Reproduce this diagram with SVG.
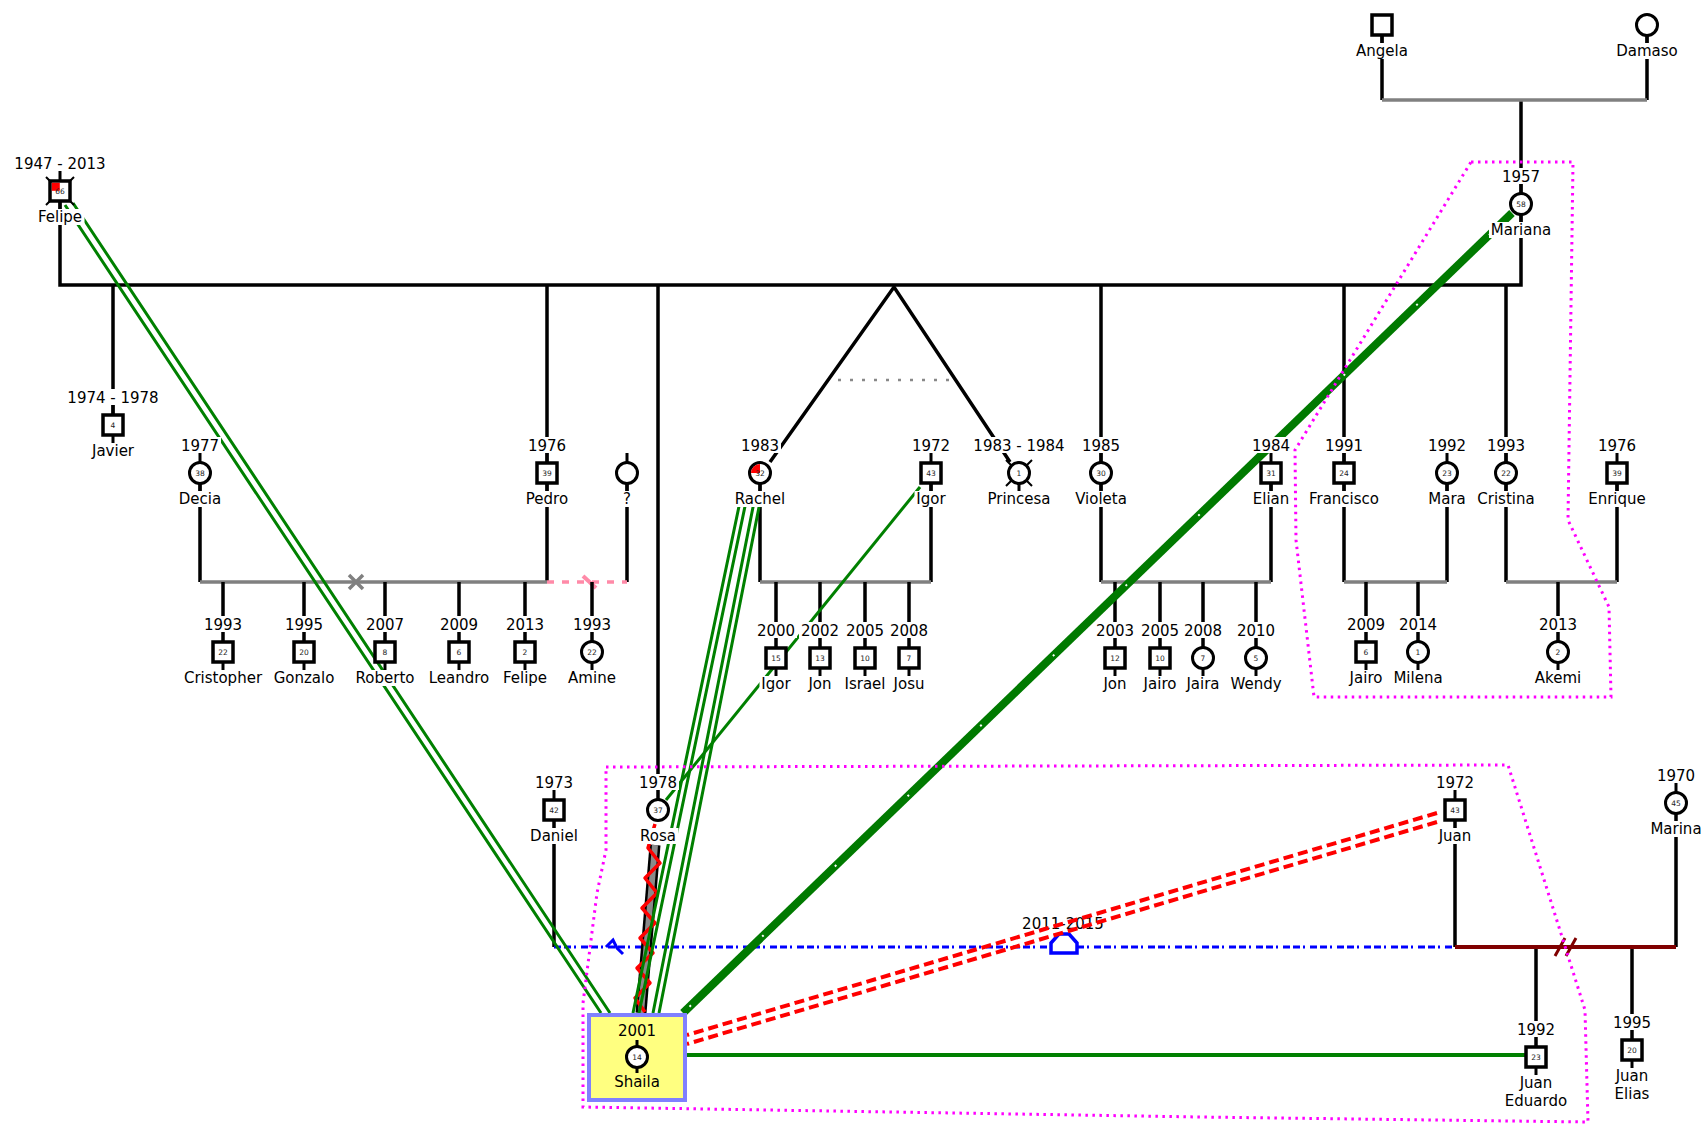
<svg xmlns="http://www.w3.org/2000/svg" width="1702" height="1145" viewBox="0 0 1702 1145">
<style>
.t{font-family:"DejaVu Sans","Liberation Sans",sans-serif;font-size:15px;text-anchor:middle;fill:#000}
.a{font-family:"DejaVu Sans","Liberation Sans",sans-serif;font-size:7.5px;text-anchor:middle;fill:#222}
.bg{fill:#fff}
.sq{fill:#fff;stroke:#000;stroke-width:3.5}
.ci{fill:#fff;stroke:#000;stroke-width:3}
.stub{stroke:#000;stroke-width:3;fill:none}
.dx{stroke:#000;stroke-width:2}
.k{stroke:#000;stroke-width:3.5;fill:none}
.m{stroke:#808080;stroke-width:3.5;fill:none}
.g{stroke:#008000;stroke-width:3;fill:none}
.rd{stroke:#f00;stroke-width:4;fill:none;stroke-dasharray:10 5}
.mg{stroke:#f0f;stroke-width:3;fill:none;stroke-dasharray:2.5 4.5}
</style>
<rect width="1702" height="1145" fill="#fff"/>
<g id="connectors">
<path class="k" d="M60,191V285H1521V204"/>
<path class="k" d="M1382,25V100M1647,25V100M1521,100V204"/>
<path class="m" d="M1382,100H1647"/>
<path class="k" d="M113,285V425M547,285V582M658,285V810M1101,285V582M1344,285V582M1506,285V582"/>
<path class="k" stroke-width="3" d="M770,462L894,287L1010,462"/>
<path d="M838,380H954" stroke="#888" stroke-width="2.5" stroke-dasharray="3 9" fill="none"/>
<path class="k" d="M200,473V582M627,473V582M760,473V582M931,473V582M1271,473V582M1447,473V582M1617,473V582"/>
<path class="m" d="M200,582H547M760,582H931M1101,582H1271M1344,582H1447M1506,582H1617"/>
<path class="m" d="M349,575L363,589M363,575L349,589"/>
<path d="M547,582H627" stroke="#ff8aa8" stroke-width="3.5" stroke-dasharray="7 8" fill="none"/>
<path d="M583,576L596,588" stroke="#ff8aa8" stroke-width="4"/>
<path class="k" d="M223,582V652M304,582V652M385,582V652M459,582V652M525,582V652M592,582V652M776,582V658M820,582V658M865,582V658M909,582V658M1115,582V658M1160,582V658M1203,582V658M1256,582V658M1366,582V652M1418,582V652M1558,582V652"/>
<path class="k" d="M554,810V947M1455,810V947M1676,803V947M1536,947V1057M1632,947V1050"/>
<path d="M554,947H1455" stroke="#00f" stroke-width="3" stroke-dasharray="7 3 7 3 2 5" fill="none"/>
<path d="M606,947L613,940L617,948L623,954" stroke="#00f" stroke-width="3" fill="none"/>
<path d="M1455,947H1676" stroke="#800000" stroke-width="4"/>
<path d="M1555,956L1565,938M1566,956L1576,938" stroke="#800000" stroke-width="3"/>
<path d="M1051,953V943L1059,934H1069L1077,943V953Z" fill="#fff" stroke="#00f" stroke-width="3.5"/>
<text class="t" x="1063" y="928.5">2011-2015</text>
<path d="M655,845L641,1013" stroke="#000" stroke-width="11"/>
<path d="M655,845L641,1013" stroke="#8a8a8a" stroke-width="6"/>
<path d="M655,824L648,848L660,863L645,878L657,893L642,908L655,923L640,938L653,953L637,968L650,983L635,998L645,1012" stroke="#f00" stroke-width="3.5" fill="none" stroke-linejoin="round"/>
<path class="g" d="M65,205L601,1013M73,203L610,1013"/>
<path class="g" d="M742,492L633,1013M748,492L639,1013M756,492L653,1013M762,492L659,1013"/>
<path class="g" d="M920,487L666,800"/>
<path d="M1512,213L683,1013" stroke="#007a00" stroke-width="8"/>
<path d="M1512,213L683,1013" stroke="#fff" stroke-width="2" stroke-dasharray="2 99" stroke-dashoffset="-30"/>
<path d="M685,1055H1526" stroke="#008000" stroke-width="4"/>
<path class="rd" d="M1437,813L687,1035M1437,822L687,1044"/>
<path class="mg" d="M1471,162L1573,162L1568,520L1609,607L1611,697L1314,697L1296,540L1295,450Z"/>
<path class="mg" d="M606,767L1508,765L1585,1010L1588,1122L1200,1117L583,1107L583,1003L597,893L606,850Z"/>
</g>
<g id="nodes">
<g id="n-angela"><path class="stub" d="M1382,35V43"/><rect class="sq" x="1372" y="15" width="20" height="20"/><rect class="bg" x="1354" y="43" width="56" height="16"/><text class="t" x="1382" y="56">Angela</text></g>
<g id="n-damaso"><path class="stub" d="M1647,35V43"/><circle class="ci" cx="1647" cy="25" r="10.5"/><rect class="bg" x="1614" y="43" width="66" height="16"/><text class="t" x="1647" y="56">Damaso</text></g>
<g id="n-mariana"><rect class="bg" x="1500" y="168" width="42" height="16"/><text class="t" x="1521" y="181.5">1957</text><path class="stub" d="M1521,184V194M1521,214V222"/><circle class="ci" cx="1521" cy="204" r="10.5"/><text class="a" x="1521" y="206.5">58</text><rect class="bg" x="1489" y="222" width="64" height="16"/><text class="t" x="1521" y="235">Mariana</text></g>
<g id="n-felipe"><rect class="bg" x="12.5" y="155" width="95" height="16"/><text class="t" x="60" y="168.5">1947 - 2013</text><path class="stub" d="M60,171V181M60,201V209"/><path class="dx" d="M46,177L74,205M74,177L46,205"/><rect class="sq" x="50" y="181" width="20" height="20"/><rect x="51.8" y="182.8" width="8" height="8" fill="#f00"/><text class="a" x="60" y="193.5">66</text><rect class="bg" x="35.5" y="209" width="49" height="16"/><text class="t" x="60" y="222">Felipe</text></g>
<g id="n-javier"><rect class="bg" x="65.5" y="389" width="95" height="16"/><text class="t" x="113" y="402.5">1974 - 1978</text><path class="stub" d="M113,405V415M113,435V443"/><rect class="sq" x="103" y="415" width="20" height="20"/><text class="a" x="113" y="427.5">4</text><rect class="bg" x="90" y="443" width="46" height="16"/><text class="t" x="113" y="456">Javier</text></g>
<g id="n-decia"><rect class="bg" x="179" y="437" width="42" height="16"/><text class="t" x="200" y="450.5">1977</text><path class="stub" d="M200,453V463M200,483V491"/><circle class="ci" cx="200" cy="473" r="10.5"/><text class="a" x="200" y="475.5">38</text><rect class="bg" x="177" y="491" width="46" height="16"/><text class="t" x="200" y="504">Decia</text></g>
<g id="n-pedro"><rect class="bg" x="526" y="437" width="42" height="16"/><text class="t" x="547" y="450.5">1976</text><path class="stub" d="M547,453V463M547,483V491"/><rect class="sq" x="537" y="463" width="20" height="20"/><text class="a" x="547" y="475.5">39</text><rect class="bg" x="523.5" y="491" width="47" height="16"/><text class="t" x="547" y="504">Pedro</text></g>
<g id="n-unknown"><path class="stub" d="M627,453V463M627,483V491"/><circle class="ci" cx="627" cy="473" r="10.5"/><rect class="bg" x="621" y="491" width="12" height="16"/><text class="t" x="627" y="504">?</text></g>
<g id="n-rachel"><rect class="bg" x="739" y="437" width="42" height="16"/><text class="t" x="760" y="450.5">1983</text><path class="stub" d="M760,483V491"/><circle class="ci" cx="760" cy="473" r="10.5"/><path d="M760,473L751,473A9,9 0 0 1 760,464Z" fill="#f00"/><text class="a" x="760" y="475.5">32</text><rect class="bg" x="732.5" y="491" width="55" height="16"/><text class="t" x="760" y="504">Rachel</text></g>
<g id="n-igor"><rect class="bg" x="910" y="437" width="42" height="16"/><text class="t" x="931" y="450.5">1972</text><path class="stub" d="M931,453V463M931,483V491"/><rect class="sq" x="921" y="463" width="20" height="20"/><text class="a" x="931" y="475.5">43</text><rect class="bg" x="914.5" y="491" width="33" height="16"/><text class="t" x="931" y="504">Igor</text></g>
<g id="n-princesa"><rect class="bg" x="971.5" y="437" width="95" height="16"/><text class="t" x="1019" y="450.5">1983 - 1984</text><path class="stub" d="M1019,483V491"/><path class="dx" d="M1006,460L1032,486M1032,460L1006,486"/><circle class="ci" cx="1019" cy="473" r="10.5"/><text class="a" x="1019" y="475.5">1</text><rect class="bg" x="985.5" y="491" width="67" height="16"/><text class="t" x="1019" y="504">Princesa</text></g>
<g id="n-violeta"><rect class="bg" x="1080" y="437" width="42" height="16"/><text class="t" x="1101" y="450.5">1985</text><path class="stub" d="M1101,453V463M1101,483V491"/><circle class="ci" cx="1101" cy="473" r="10.5"/><text class="a" x="1101" y="475.5">30</text><rect class="bg" x="1073" y="491" width="56" height="16"/><text class="t" x="1101" y="504">Violeta</text></g>
<g id="n-elian"><rect class="bg" x="1250" y="437" width="42" height="16"/><text class="t" x="1271" y="450.5">1984</text><path class="stub" d="M1271,453V463M1271,483V491"/><rect class="sq" x="1261" y="463" width="20" height="20"/><text class="a" x="1271" y="475.5">31</text><rect class="bg" x="1250.5" y="491" width="41" height="16"/><text class="t" x="1271" y="504">Elian</text></g>
<g id="n-francisco"><rect class="bg" x="1323" y="437" width="42" height="16"/><text class="t" x="1344" y="450.5">1991</text><path class="stub" d="M1344,453V463M1344,483V491"/><rect class="sq" x="1334" y="463" width="20" height="20"/><text class="a" x="1344" y="475.5">24</text><rect class="bg" x="1306.5" y="491" width="75" height="16"/><text class="t" x="1344" y="504">Francisco</text></g>
<g id="n-mara"><rect class="bg" x="1426" y="437" width="42" height="16"/><text class="t" x="1447" y="450.5">1992</text><path class="stub" d="M1447,453V463M1447,483V491"/><circle class="ci" cx="1447" cy="473" r="10.5"/><text class="a" x="1447" y="475.5">23</text><rect class="bg" x="1426" y="491" width="42" height="16"/><text class="t" x="1447" y="504">Mara</text></g>
<g id="n-cristina"><rect class="bg" x="1485" y="437" width="42" height="16"/><text class="t" x="1506" y="450.5">1993</text><path class="stub" d="M1506,453V463M1506,483V491"/><circle class="ci" cx="1506" cy="473" r="10.5"/><text class="a" x="1506" y="475.5">22</text><rect class="bg" x="1475.5" y="491" width="61" height="16"/><text class="t" x="1506" y="504">Cristina</text></g>
<g id="n-enrique"><rect class="bg" x="1596" y="437" width="42" height="16"/><text class="t" x="1617" y="450.5">1976</text><path class="stub" d="M1617,453V463M1617,483V491"/><rect class="sq" x="1607" y="463" width="20" height="20"/><text class="a" x="1617" y="475.5">39</text><rect class="bg" x="1586" y="491" width="62" height="16"/><text class="t" x="1617" y="504">Enrique</text></g>
<g id="n-cristopher"><rect class="bg" x="202" y="616" width="42" height="16"/><text class="t" x="223" y="629.5">1993</text><path class="stub" d="M223,662V670"/><rect class="sq" x="213" y="642" width="20" height="20"/><text class="a" x="223" y="654.5">22</text><rect class="bg" x="182" y="670" width="82" height="16"/><text class="t" x="223" y="683">Cristopher</text></g>
<g id="n-gonzalo"><rect class="bg" x="283" y="616" width="42" height="16"/><text class="t" x="304" y="629.5">1995</text><path class="stub" d="M304,662V670"/><rect class="sq" x="294" y="642" width="20" height="20"/><text class="a" x="304" y="654.5">20</text><rect class="bg" x="271.5" y="670" width="65" height="16"/><text class="t" x="304" y="683">Gonzalo</text></g>
<g id="n-roberto"><rect class="bg" x="364" y="616" width="42" height="16"/><text class="t" x="385" y="629.5">2007</text><path class="stub" d="M385,662V670"/><rect class="sq" x="375" y="642" width="20" height="20"/><text class="a" x="385" y="654.5">8</text><rect class="bg" x="353" y="670" width="64" height="16"/><text class="t" x="385" y="683">Roberto</text></g>
<g id="n-leandro"><rect class="bg" x="438" y="616" width="42" height="16"/><text class="t" x="459" y="629.5">2009</text><path class="stub" d="M459,662V670"/><rect class="sq" x="449" y="642" width="20" height="20"/><text class="a" x="459" y="654.5">6</text><rect class="bg" x="426.5" y="670" width="65" height="16"/><text class="t" x="459" y="683">Leandro</text></g>
<g id="n-felipe2"><rect class="bg" x="504" y="616" width="42" height="16"/><text class="t" x="525" y="629.5">2013</text><path class="stub" d="M525,662V670"/><rect class="sq" x="515" y="642" width="20" height="20"/><text class="a" x="525" y="654.5">2</text><rect class="bg" x="500.5" y="670" width="49" height="16"/><text class="t" x="525" y="683">Felipe</text></g>
<g id="n-amine"><rect class="bg" x="571" y="616" width="42" height="16"/><text class="t" x="592" y="629.5">1993</text><path class="stub" d="M592,662V670"/><circle class="ci" cx="592" cy="652" r="10.5"/><text class="a" x="592" y="654.5">22</text><rect class="bg" x="566" y="670" width="52" height="16"/><text class="t" x="592" y="683">Amine</text></g>
<g id="n-igor2"><rect class="bg" x="755" y="622" width="42" height="16"/><text class="t" x="776" y="635.5">2000</text><path class="stub" d="M776,668V676"/><rect class="sq" x="766" y="648" width="20" height="20"/><text class="a" x="776" y="660.5">15</text><rect class="bg" x="759.5" y="676" width="33" height="16"/><text class="t" x="776" y="689">Igor</text></g>
<g id="n-jon"><rect class="bg" x="799" y="622" width="42" height="16"/><text class="t" x="820" y="635.5">2002</text><path class="stub" d="M820,668V676"/><rect class="sq" x="810" y="648" width="20" height="20"/><text class="a" x="820" y="660.5">13</text><rect class="bg" x="806.5" y="676" width="27" height="16"/><text class="t" x="820" y="689">Jon</text></g>
<g id="n-israel"><rect class="bg" x="844" y="622" width="42" height="16"/><text class="t" x="865" y="635.5">2005</text><path class="stub" d="M865,668V676"/><rect class="sq" x="855" y="648" width="20" height="20"/><text class="a" x="865" y="660.5">10</text><rect class="bg" x="842.5" y="676" width="45" height="16"/><text class="t" x="865" y="689">Israel</text></g>
<g id="n-josu"><rect class="bg" x="888" y="622" width="42" height="16"/><text class="t" x="909" y="635.5">2008</text><path class="stub" d="M909,668V676"/><rect class="sq" x="899" y="648" width="20" height="20"/><text class="a" x="909" y="660.5">7</text><rect class="bg" x="891.5" y="676" width="35" height="16"/><text class="t" x="909" y="689">Josu</text></g>
<g id="n-jon2"><rect class="bg" x="1094" y="622" width="42" height="16"/><text class="t" x="1115" y="635.5">2003</text><path class="stub" d="M1115,668V676"/><rect class="sq" x="1105" y="648" width="20" height="20"/><text class="a" x="1115" y="660.5">12</text><rect class="bg" x="1101.5" y="676" width="27" height="16"/><text class="t" x="1115" y="689">Jon</text></g>
<g id="n-jairo"><rect class="bg" x="1139" y="622" width="42" height="16"/><text class="t" x="1160" y="635.5">2005</text><path class="stub" d="M1160,668V676"/><rect class="sq" x="1150" y="648" width="20" height="20"/><text class="a" x="1160" y="660.5">10</text><rect class="bg" x="1141.5" y="676" width="37" height="16"/><text class="t" x="1160" y="689">Jairo</text></g>
<g id="n-jaira"><rect class="bg" x="1182" y="622" width="42" height="16"/><text class="t" x="1203" y="635.5">2008</text><path class="stub" d="M1203,668V676"/><circle class="ci" cx="1203" cy="658" r="10.5"/><text class="a" x="1203" y="660.5">7</text><rect class="bg" x="1184.5" y="676" width="37" height="16"/><text class="t" x="1203" y="689">Jaira</text></g>
<g id="n-wendy"><rect class="bg" x="1235" y="622" width="42" height="16"/><text class="t" x="1256" y="635.5">2010</text><path class="stub" d="M1256,668V676"/><circle class="ci" cx="1256" cy="658" r="10.5"/><text class="a" x="1256" y="660.5">5</text><rect class="bg" x="1228" y="676" width="56" height="16"/><text class="t" x="1256" y="689">Wendy</text></g>
<g id="n-jairo2"><rect class="bg" x="1345" y="616" width="42" height="16"/><text class="t" x="1366" y="629.5">2009</text><path class="stub" d="M1366,662V670"/><rect class="sq" x="1356" y="642" width="20" height="20"/><text class="a" x="1366" y="654.5">6</text><rect class="bg" x="1347.5" y="670" width="37" height="16"/><text class="t" x="1366" y="683">Jairo</text></g>
<g id="n-milena"><rect class="bg" x="1397" y="616" width="42" height="16"/><text class="t" x="1418" y="629.5">2014</text><path class="stub" d="M1418,662V670"/><circle class="ci" cx="1418" cy="652" r="10.5"/><text class="a" x="1418" y="654.5">1</text><rect class="bg" x="1391.5" y="670" width="53" height="16"/><text class="t" x="1418" y="683">Milena</text></g>
<g id="n-akemi"><rect class="bg" x="1537" y="616" width="42" height="16"/><text class="t" x="1558" y="629.5">2013</text><path class="stub" d="M1558,662V670"/><circle class="ci" cx="1558" cy="652" r="10.5"/><text class="a" x="1558" y="654.5">2</text><rect class="bg" x="1532.5" y="670" width="51" height="16"/><text class="t" x="1558" y="683">Akemi</text></g>
<g id="n-daniel"><rect class="bg" x="533" y="774" width="42" height="16"/><text class="t" x="554" y="787.5">1973</text><path class="stub" d="M554,790V800"/><rect class="sq" x="544" y="800" width="20" height="20"/><text class="a" x="554" y="812.5">42</text><rect class="bg" x="528" y="828" width="52" height="16"/><text class="t" x="554" y="841">Daniel</text></g>
<g id="n-rosa"><rect class="bg" x="637" y="774" width="42" height="16"/><text class="t" x="658" y="787.5">1978</text><circle class="ci" cx="658" cy="810" r="10.5"/><text class="a" x="658" y="812.5">37</text><rect class="bg" x="637.5" y="828" width="41" height="16"/><text class="t" x="658" y="841">Rosa</text></g>
<g id="n-juan"><rect class="bg" x="1434" y="774" width="42" height="16"/><text class="t" x="1455" y="787.5">1972</text><path class="stub" d="M1455,790V800"/><rect class="sq" x="1445" y="800" width="20" height="20"/><text class="a" x="1455" y="812.5">43</text><rect class="bg" x="1436.5" y="828" width="37" height="16"/><text class="t" x="1455" y="841">Juan</text></g>
<g id="n-marina"><rect class="bg" x="1655" y="767" width="42" height="16"/><text class="t" x="1676" y="780.5">1970</text><path class="stub" d="M1676,783V793"/><circle class="ci" cx="1676" cy="803" r="10.5"/><text class="a" x="1676" y="805.5">45</text><rect class="bg" x="1648.5" y="821" width="55" height="16"/><text class="t" x="1676" y="834">Marina</text></g>
<g id="n-shaila"><rect x="589" y="1015" width="96" height="85" fill="#ffff80" stroke="#8080ff" stroke-width="4"/><text class="t" x="637" y="1035.5">2001</text><path class="stub" d="M637,1040V1047M637,1067V1073"/><circle class="ci" cx="637" cy="1057" r="10.5"/><text class="a" x="637" y="1059.5">14</text><text class="t" x="637" y="1087">Shaila</text></g>
<g id="n-juaneduardo"><rect class="bg" x="1515" y="1021" width="42" height="16"/><text class="t" x="1536" y="1034.5">1992</text><path class="stub" d="M1536,1067V1075"/><rect class="sq" x="1526" y="1047" width="20" height="20"/><text class="a" x="1536" y="1059.5">23</text><rect class="bg" x="1502" y="1075" width="68" height="34"/><text class="t" x="1536" y="1088">Juan</text><text class="t" x="1536" y="1106">Eduardo</text></g>
<g id="n-juanelias"><rect class="bg" x="1611" y="1014" width="42" height="16"/><text class="t" x="1632" y="1027.5">1995</text><path class="stub" d="M1632,1060V1068"/><rect class="sq" x="1622" y="1040" width="20" height="20"/><text class="a" x="1632" y="1052.5">20</text><rect class="bg" x="1612" y="1068" width="40" height="34"/><text class="t" x="1632" y="1081">Juan</text><text class="t" x="1632" y="1099">Elias</text></g>
</g>
</svg>
